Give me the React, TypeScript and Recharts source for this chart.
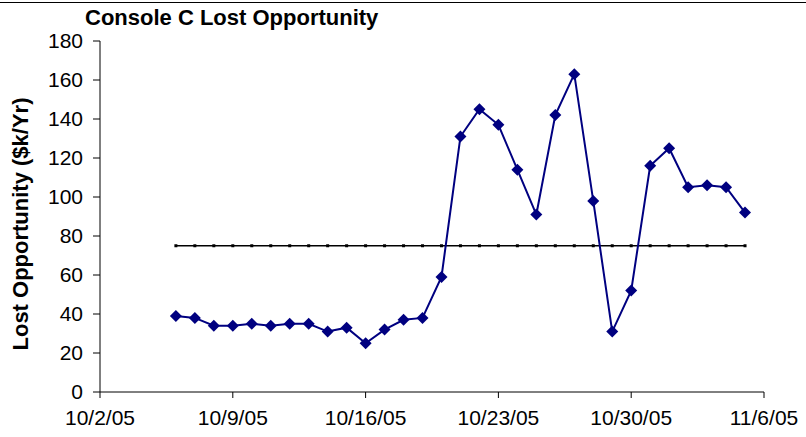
import { ComposedChart, Line, XAxis, YAxis } from "recharts";

const dates = [
  "10/6/05", "10/7/05", "10/8/05", "10/9/05", "10/10/05", "10/11/05", "10/12/05",
  "10/13/05", "10/14/05", "10/15/05", "10/16/05", "10/17/05", "10/18/05", "10/19/05",
  "10/20/05", "10/21/05", "10/22/05", "10/23/05", "10/24/05", "10/25/05", "10/26/05",
  "10/27/05", "10/28/05", "10/29/05", "10/30/05", "10/31/05", "11/1/05", "11/2/05",
  "11/3/05", "11/4/05", "11/5/05",
];
const lostOpportunity = [
  39, 38, 34, 34, 35, 34, 35, 35, 31, 33, 25, 32, 37, 38, 59, 131, 145, 137, 114, 91,
  142, 163, 98, 31, 52, 116, 125, 105, 106, 105, 92,
];
const target = [
  75, 75, 75, 75, 75, 75, 75, 75, 75, 75, 75, 75, 75, 75, 75, 75, 75, 75, 75, 75, 75,
  75, 75, 75, 75, 75, 75, 75, 75, 75, 75,
];
const xTickLabels = ["10/2/05", "10/9/05", "10/16/05", "10/23/05", "10/30/05", "11/6/05"];
const yTicks = [0, 20, 40, 60, 80, 100, 120, 140, 160, 180];

const toTime = (s: string) => {
  const [m, d, y] = s.split("/").map(Number);
  return Date.UTC(2000 + y, m - 1, d);
};

const xTicks = xTickLabels.map(toTime);
const data = dates.map((d, i) => ({
  t: toTime(d),
  value: lostOpportunity[i],
  target: target[i],
}));

const FONT = '"Liberation Sans", Arial, sans-serif';

const Diamond = (props: any) => {
  const { cx, cy } = props;
  if (cx == null || cy == null) return null;
  const r = 6;
  return (
    <polygon
      points={`${cx},${cy - r} ${cx + r},${cy} ${cx},${cy + r} ${cx - r},${cy}`}
      fill="#000080"
    />
  );
};

const SmallSquare = (props: any) => {
  const { cx, cy } = props;
  if (cx == null || cy == null) return null;
  return <rect x={cx - 1.5} y={cy - 1.5} width={3} height={3} fill="#000" />;
};

export default function App() {
  return (
    <div style={{ position: "absolute", left: 0, top: 0, width: 806, height: 437, background: "#fff" }}>
      <div style={{ position: "absolute", left: 0, top: 2, width: 806, height: 1, background: "#000" }} />
      <div
        style={{
          position: "absolute",
          left: 85,
          top: 5,
          font: `bold 22px ${FONT}`,
          whiteSpace: "nowrap",
        }}
      >
        Console C Lost Opportunity
      </div>
      <div
        style={{
          position: "absolute",
          left: 21,
          top: 224,
          transform: "translate(-50%, -50%) rotate(-90deg)",
          font: `bold 22px ${FONT}`,
          whiteSpace: "nowrap",
        }}
      >
        Lost Opportunity ($k/Yr)
      </div>
      <ComposedChart
        width={806}
        height={437}
        data={data}
        margin={{ top: 41, right: 42, bottom: 0, left: 0 }}
      >
        <XAxis
          dataKey="t"
          type="number"
          domain={[xTicks[0], xTicks[xTicks.length - 1]]}
          ticks={xTicks}
          tickFormatter={(v: number) => xTickLabels[xTicks.indexOf(v)]}
          height={45}
          tickSize={6}
          tickMargin={12}
          stroke="#000"
          tick={{ fill: "#000", fontSize: 21, fontFamily: FONT }}
          interval={0}
        />
        <YAxis
          type="number"
          domain={[0, 180]}
          ticks={yTicks}
          width={100}
          tickSize={7}
          tickMargin={10}
          stroke="#000"
          tick={{ fill: "#000", fontSize: 21, fontFamily: FONT }}
          interval={0}
        />
        <Line
          dataKey="target"
          stroke="#000"
          strokeWidth={1.5}
          dot={<SmallSquare />}
          activeDot={false}
          isAnimationActive={false}
        />
        <Line
          dataKey="value"
          stroke="#000080"
          strokeWidth={2}
          dot={<Diamond />}
          activeDot={false}
          isAnimationActive={false}
        />
      </ComposedChart>
    </div>
  );
}
